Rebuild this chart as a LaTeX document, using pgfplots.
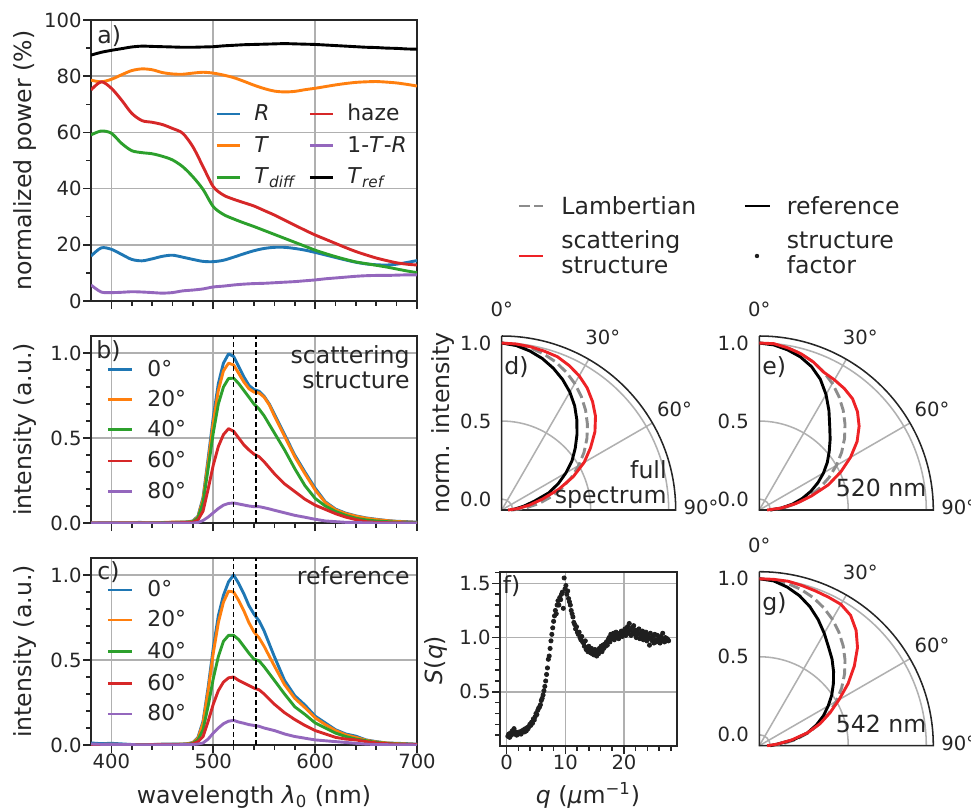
\documentclass[border=0pt]{standalone}
\usepackage{fontspec}
\setmainfont{DejaVu Sans}
\usepackage{pgfplots}
\usepackage{pgfplotstable}
\pgfplotsset{compat=1.18}

\definecolor{tabblue}{RGB}{31,119,180}
\definecolor{taborange}{RGB}{255,127,14}
\definecolor{tabgreen}{RGB}{44,160,44}
\definecolor{tabred}{RGB}{214,39,40}
\definecolor{tabpurple}{RGB}{148,103,189}
\definecolor{gridgray}{RGB}{176,176,176}
\definecolor{ink}{RGB}{38,38,38}
\definecolor{brightred}{RGB}{238,34,38}
\definecolor{lambgray}{RGB}{140,140,140}

\newcommand{\tickfont}{\fontsize{9.8bp}{11.8bp}\selectfont}
\newcommand{\legfont}{\fontsize{10.9bp}{13bp}\selectfont}
\newcommand{\labfont}{\fontsize{11.8bp}{14bp}\selectfont}

\tikzset{ln/.style={line width=1.45bp, line join=round}}

% panel a: lambda, R, T, T_diff, haze, 1-T-R, T_ref
\pgfplotstableread{
lam R T Td haze A Tref
380 16.0 78.6 59.1 75.1 5.7 87.5
390 18.9 78.0 60.5 78.0 3.2 88.5
400 18.4 78.9 59.7 75.7 3.0 89.2
410 16.6 80.5 56.1 71.5 3.1 89.8
420 14.8 82.0 53.5 66.8 3.3 90.4
430 14.3 82.6 52.8 64.2 3.2 90.7
440 15.0 82.3 52.4 63.6 3.0 90.6
450 15.9 81.3 51.5 62.8 2.8 90.5
460 16.3 80.8 50.2 61.4 3.0 90.4
470 15.6 80.7 47.8 59.7 3.6 90.3
480 14.8 81.1 44.2 54.9 3.9 90.3
490 14.1 81.4 39.7 47.8 4.3 90.4
500 14.0 81.1 33.6 40.7 5.0 90.5
510 14.5 80.4 30.8 37.7 5.3 90.8
520 15.6 79.5 29.2 36.2 5.7 91.0
530 16.8 78.2 27.8 35.0 6.0 91.2
540 17.9 76.8 26.5 33.8 6.2 91.3
550 18.7 75.6 25.1 32.2 6.3 91.4
560 19.1 74.7 23.7 30.6 6.5 91.5
570 19.1 74.4 22.3 28.8 6.7 91.6
580 18.7 74.6 20.9 27.0 6.9 91.5
590 18.1 75.2 19.5 25.2 7.2 91.4
600 17.3 75.7 18.1 23.5 7.5 91.3
610 16.4 76.3 16.9 22.0 7.9 91.1
620 15.5 76.9 15.8 20.5 8.2 90.9
630 14.6 77.4 14.8 19.0 8.5 90.7
640 13.8 77.8 13.9 17.6 8.8 90.5
650 13.2 78.0 13.3 16.4 9.0 90.3
660 12.9 78.1 12.7 15.3 9.1 90.2
670 12.8 77.9 12.1 14.4 9.1 90.0
680 13.1 77.6 11.4 13.6 9.2 89.9
690 13.7 77.1 10.7 13.1 9.3 89.7
700 14.4 76.5 10.1 12.8 9.3 89.6
}\tabA

% panel b: scattering structure spectra at 0,20,40,60,80 deg
\pgfplotstableread{
lam a0 a20 a40 a60 a80
380 0.000 0.000 0.000 0.000 0.000
400 0.001 0.000 0.000 0.000 0.000
420 0.001 0.001 0.000 0.000 0.000
428 0.004 0.001 0.000 0.000 0.000
435 0.001 0.001 0.000 0.000 0.000
450 0.002 0.003 0.002 0.000 0.000
460 0.004 0.005 0.003 0.001 0.000
470 0.005 0.005 0.004 0.002 0.000
475 0.007 0.006 0.005 0.003 0.000
480 0.012 0.010 0.008 0.004 0.000
485 0.040 0.036 0.030 0.018 0.003
490 0.150 0.140 0.120 0.070 0.015
495 0.380 0.360 0.320 0.200 0.035
500 0.620 0.590 0.530 0.340 0.060
505 0.820 0.780 0.700 0.450 0.085
510 0.940 0.895 0.800 0.520 0.105
515 0.995 0.940 0.850 0.555 0.115
520 0.980 0.930 0.852 0.540 0.118
525 0.920 0.880 0.820 0.500 0.112
530 0.860 0.830 0.780 0.460 0.106
535 0.810 0.790 0.740 0.430 0.100
540 0.785 0.770 0.700 0.405 0.096
545 0.775 0.765 0.670 0.390 0.096
550 0.745 0.740 0.630 0.360 0.090
555 0.700 0.695 0.580 0.325 0.083
560 0.640 0.630 0.530 0.290 0.075
570 0.520 0.510 0.430 0.230 0.060
580 0.400 0.390 0.320 0.185 0.045
590 0.300 0.290 0.220 0.140 0.034
600 0.205 0.195 0.145 0.105 0.022
610 0.125 0.120 0.100 0.080 0.012
620 0.082 0.078 0.068 0.055 0.008
630 0.058 0.055 0.045 0.035 0.004
640 0.042 0.040 0.028 0.020 0.003
650 0.030 0.028 0.018 0.008 0.001
660 0.022 0.020 0.012 0.004 0.000
670 0.015 0.014 0.008 0.002 0.000
680 0.010 0.009 0.005 0.001 0.000
690 0.008 0.006 0.003 0.000 0.000
700 0.005 0.004 0.002 0.000 0.000
}\tabB

% panel c: reference spectra
\pgfplotstableread{
lam a0 a20 a40 a60 a80
380 0.012 0.002 0.001 0.001 0.006
390 0.008 0.003 0.002 0.001 0.004
400 0.010 0.004 0.003 0.002 0.004
420 0.003 0.002 0.002 0.001 0.002
440 0.003 0.003 0.002 0.002 0.001
455 0.006 0.004 0.003 0.002 0.001
470 0.006 0.005 0.004 0.003 0.002
475 0.008 0.007 0.005 0.004 0.002
480 0.015 0.013 0.010 0.007 0.003
485 0.045 0.040 0.030 0.020 0.006
490 0.140 0.130 0.090 0.050 0.012
495 0.340 0.320 0.230 0.140 0.035
500 0.570 0.540 0.390 0.240 0.070
505 0.760 0.720 0.520 0.320 0.100
510 0.880 0.840 0.610 0.370 0.125
515 0.960 0.905 0.645 0.395 0.140
520 1.000 0.900 0.645 0.400 0.145
525 0.950 0.850 0.620 0.380 0.135
530 0.890 0.790 0.580 0.365 0.128
535 0.820 0.720 0.540 0.350 0.120
540 0.770 0.665 0.505 0.335 0.115
545 0.730 0.630 0.495 0.325 0.110
550 0.670 0.580 0.460 0.300 0.100
560 0.520 0.465 0.380 0.240 0.085
570 0.380 0.355 0.300 0.190 0.065
580 0.290 0.275 0.225 0.150 0.050
590 0.235 0.220 0.180 0.115 0.040
600 0.170 0.160 0.130 0.085 0.030
610 0.130 0.120 0.100 0.065 0.025
620 0.090 0.085 0.070 0.045 0.020
630 0.065 0.060 0.050 0.035 0.015
640 0.052 0.045 0.035 0.030 0.010
650 0.030 0.028 0.025 0.020 0.005
660 0.020 0.018 0.015 0.012 0.003
670 0.012 0.012 0.010 0.008 0.002
680 0.010 0.008 0.006 0.005 0.001
690 0.008 0.006 0.004 0.003 0.001
700 0.005 0.004 0.003 0.002 0.000
}\tabC

% angular distributions: angle, Lambertian, d/e/g reference and structure
\pgfplotstableread{
th lam dref dstr eref estr gref gstr
0 1.000 1.000 1.000 1.000 1.000 1.000 1.000
5 0.996 0.988 0.998 0.992 1.000 0.990 1.000
10 0.985 0.965 0.992 0.972 0.985 0.962 1.000
15 0.966 0.935 0.984 0.946 0.966 0.925 0.992
20 0.940 0.897 0.975 0.908 0.940 0.878 0.985
25 0.906 0.853 0.952 0.855 0.905 0.822 0.980
30 0.866 0.803 0.923 0.785 0.893 0.762 0.976
35 0.819 0.745 0.885 0.708 0.880 0.703 0.950
40 0.766 0.680 0.836 0.632 0.860 0.655 0.895
45 0.707 0.612 0.780 0.572 0.820 0.603 0.820
50 0.643 0.545 0.710 0.515 0.765 0.550 0.725
55 0.574 0.480 0.625 0.462 0.695 0.497 0.625
60 0.500 0.405 0.540 0.405 0.605 0.440 0.520
65 0.423 0.330 0.436 0.345 0.505 0.383 0.430
70 0.342 0.250 0.320 0.282 0.400 0.320 0.345
75 0.259 0.145 0.200 0.215 0.275 0.250 0.250
80 0.174 0.075 0.110 0.145 0.170 0.155 0.140
85 0.087 0.020 0.035 0.070 0.070 0.045 0.045
90 0.000 -0.010 -0.030 0.000 -0.020 0.000 -0.020
}\tabP

% panel f: structure factor
\pgfplotstableread{
q S
0.20 0.09
0.35 0.11
0.50 0.08
0.65 0.12
0.80 0.10
0.95 0.14
1.10 0.12
1.25 0.16
1.40 0.11
1.55 0.13
1.70 0.10
1.85 0.12
2.00 0.11
2.15 0.13
2.30 0.12
2.45 0.11
2.60 0.14
2.75 0.13
2.90 0.15
3.05 0.13
3.20 0.16
3.35 0.14
3.50 0.17
3.65 0.16
3.80 0.18
3.95 0.20
4.10 0.19
4.25 0.22
4.40 0.21
4.55 0.25
4.70 0.24
4.85 0.27
5.00 0.30
5.15 0.29
5.30 0.33
5.45 0.35
5.60 0.36
5.75 0.38
5.90 0.42
6.05 0.44
6.20 0.47
6.35 0.51
6.50 0.55
6.65 0.60
6.80 0.66
6.95 0.72
7.10 0.80
7.25 0.83
7.40 0.90
7.55 0.97
7.70 1.03
7.85 1.09
8.00 1.15
8.15 1.20
8.30 1.25
8.45 1.22
8.60 1.30
8.75 1.34
8.90 1.30
9.05 1.37
9.20 1.35
9.35 1.40
9.50 1.42
9.65 1.27
9.80 1.55
9.95 1.45
10.10 1.48
10.25 1.40
10.40 1.43
10.55 1.36
10.70 1.33
10.85 1.30
11.00 1.25
11.15 1.22
11.30 1.19
11.45 1.14
11.60 1.12
11.75 1.08
11.90 1.10
12.05 1.05
12.20 1.03
12.35 1.05
12.50 1.00
12.65 0.98
12.80 1.01
12.95 0.96
13.10 0.95
13.25 0.92
13.40 0.97
13.55 0.89
13.70 0.91
13.85 0.87
14.00 0.92
14.15 0.88
14.30 0.86
14.45 0.90
14.60 0.85
14.75 0.88
14.90 0.84
15.05 0.89
15.20 0.86
15.35 0.83
15.50 0.87
15.65 0.85
15.80 0.90
15.95 0.88
16.10 0.92
16.25 0.87
16.40 0.93
16.55 0.90
16.70 0.94
16.85 0.92
17.00 0.96
17.15 0.93
17.30 0.98
17.45 1.00
17.60 0.96
17.75 1.03
17.90 0.99
18.05 1.01
18.20 1.04
18.35 0.98
18.50 1.02
18.65 1.05
18.80 1.00
18.95 1.03
19.10 0.99
19.25 1.04
19.40 1.02
19.55 1.06
19.70 1.01
19.85 1.05
20.00 1.03
20.15 1.08
20.30 1.02
20.45 1.06
20.60 1.10
20.75 1.04
20.90 1.13
21.05 1.07
21.20 1.02
21.35 1.09
21.50 1.05
21.65 1.11
21.80 1.03
21.95 1.07
22.10 1.00
22.25 1.06
22.40 1.03
22.55 1.08
22.70 0.99
22.85 1.04
23.00 1.01
23.15 1.06
23.30 0.98
23.45 1.03
23.60 1.00
23.75 1.05
23.90 0.97
24.05 1.02
24.20 0.99
24.35 0.93
24.50 1.04
24.65 1.00
24.80 0.97
24.95 1.01
25.10 0.95
25.25 1.03
25.40 0.98
25.55 0.96
25.70 1.02
25.85 0.97
26.00 0.99
26.15 0.95
26.30 1.01
26.45 0.97
26.60 1.04
26.75 0.98
26.90 0.96
27.05 1.00
27.20 0.97
27.35 0.99
27.50 0.98
27.60 0.97
}\tabS

\pgfplotsset{
  mpl/.style={
    scale only axis,
    axis line style={ink, line width=0.77bp},
    tick style={ink, line width=0.77bp},
    major tick length=4bp, minor tick length=2.3bp,
    tick align=outside, tick pos=left,
    xmajorgrids, ymajorgrids,
    major grid style={gridgray, line width=0.77bp},
    tick label style={font=\tickfont, text=ink, inner sep=0.5bp},
    /pgf/number format/assume math mode=true,
  },
  spec/.style={mpl, width=163bp, xmin=380, xmax=700,
    xtick={400,500,600,700},
    minor xtick={420,440,460,480,520,540,560,580,620,640,660,680}},
  spec01/.style={spec, height=93.5bp, ymin=0, ymax=1.1,
    ytick={0,0.5,1}, yticklabels={0.0,0.5,1.0},
    minor ytick={0.1,0.2,0.3,0.4,0.6,0.7,0.8,0.9}},
  polq/.style={scale only axis, width=87bp, height=87bp,
    xmin=0, xmax=1.115, ymin=0, ymax=1.115, clip=false,
    axis line style={draw=none}, xtick=\empty,
    ytick={0.07,0.57,1.07}, yticklabels={0.0,0.5,1.0},
    major tick length=0pt, tick style={draw=none},
    yticklabel style={font=\tickfont, text=ink, inner sep=0pt, xshift=-5bp}},
}

% polar grid and frame (radius unit = 78.027bp)
\newcommand{\polarframe}{%
  \draw[gridgray, line width=0.77bp] (axis cs:0.07,0) arc[start angle=0,end angle=90,radius=5.462bp];
  \draw[gridgray, line width=0.77bp] (axis cs:0.57,0) arc[start angle=0,end angle=90,radius=44.475bp];
  \draw[gridgray, line width=0.77bp] (axis cs:1.07,0) arc[start angle=0,end angle=90,radius=83.489bp];
  \draw[gridgray, line width=0.77bp] (axis cs:0,0) -- (axis cs:0.5575,0.96562);
  \draw[gridgray, line width=0.77bp] (axis cs:0,0) -- (axis cs:0.96562,0.5575);
  \draw[ink, line width=0.77bp] (axis cs:0,1.115) -- (axis cs:0,0) -- (axis cs:1.115,0)
     arc[start angle=0,end angle=90,radius=87bp];
}
\newcommand{\polplot}[2]{%
  \addplot[#1] table[x expr={(\thisrow{#2}+0.07)*sin(\thisrow{th})},
                     y expr={(\thisrow{#2}+0.07)*cos(\thisrow{th})}] {\tabP};
}
\newcommand{\polcurves}[2]{%
  \polplot{lambgray, ln, dash pattern=on 5.4bp off 2.3bp}{lam}
  \polplot{black, ln}{#1}
  \polplot{brightred, ln}{#2}
}

\begin{document}
\begin{tikzpicture}
\useasboundingbox (0,0) rectangle (485.5bp,-405.5bp);

% ---- a) ----
\begin{axis}[spec, height=140.5bp, at={(45.5bp,-150.5bp)}, anchor=south west,
  ymin=0, ymax=100, ytick={0,20,...,100}, minor ytick={10,30,50,70,90},
  xticklabels={}]
\addplot[tabblue, ln, smooth] table[x=lam, y=R] {\tabA};
\addplot[taborange, ln, smooth] table[x=lam, y=T] {\tabA};
\addplot[tabgreen, ln, smooth] table[x=lam, y=Td] {\tabA};
\addplot[tabred, ln, smooth] table[x=lam, y=haze] {\tabA};
\addplot[tabpurple, ln, smooth] table[x=lam, y=A] {\tabA};
\addplot[black, ln, smooth] table[x=lam, y=Tref] {\tabA};
\end{axis}

% ---- b) ----
\begin{axis}[spec01, at={(45.5bp,-261.5bp)}, anchor=south west, xticklabels={}]
\addplot[tabblue, ln] table[x=lam, y=a0] {\tabB};
\addplot[taborange, ln] table[x=lam, y=a20] {\tabB};
\addplot[tabgreen, ln] table[x=lam, y=a40] {\tabB};
\addplot[tabred, ln] table[x=lam, y=a60] {\tabB};
\addplot[tabpurple, ln] table[x=lam, y=a80] {\tabB};
\addplot[black, line width=0.6bp, dash pattern=on 2.5bp off 1.5bp] coordinates {(520,0) (520,1.1)};
\addplot[black, line width=0.6bp, dash pattern=on 2.5bp off 1.5bp] coordinates {(542,0) (542,1.1)};
\end{axis}

% ---- c) ----
\begin{axis}[spec01, at={(45.5bp,-372.5bp)}, anchor=south west]
\addplot[tabblue, ln] table[x=lam, y=a0] {\tabC};
\addplot[taborange, ln] table[x=lam, y=a20] {\tabC};
\addplot[tabgreen, ln] table[x=lam, y=a40] {\tabC};
\addplot[tabred, ln] table[x=lam, y=a60] {\tabC};
\addplot[tabpurple, ln] table[x=lam, y=a80] {\tabC};
\addplot[black, line width=0.6bp, dash pattern=on 2.5bp off 1.5bp] coordinates {(520,0) (520,1.1)};
\addplot[black, line width=0.6bp, dash pattern=on 2.5bp off 1.5bp] coordinates {(542,0) (542,1.1)};
\end{axis}

% ---- f) ----
\begin{axis}[mpl, width=88.5bp, height=87bp, at={(250bp,-373bp)}, anchor=south west,
  xmin=-1.14, xmax=29.04, ymin=0, ymax=1.605,
  xtick={0,10,20}, minor xtick={2,4,6,8,12,14,16,18,22,24,26,28},
  ytick={0.5,1,1.5}, yticklabels={0.5,1.0,1.5},
  minor ytick={0.1,0.2,0.3,0.4,0.6,0.7,0.8,0.9,1.1,1.2,1.3,1.4,1.6}]
\addplot[only marks, mark=*, mark size=1.05bp, black!88] table[x=q, y=S] {\tabS};
\end{axis}

% ---- d), e), g) ----
\begin{axis}[polq, at={(250.85bp,-255bp)}, anchor=south west]
\polarframe
\polcurves{dref}{dstr}
\end{axis}
\begin{axis}[polq, at={(379.65bp,-255bp)}, anchor=south west]
\polarframe
\polcurves{eref}{estr}
\end{axis}
\begin{axis}[polq, at={(379.65bp,-372.85bp)}, anchor=south west]
\polarframe
\polcurves{gref}{gstr}
\end{axis}

% ---- texts and legends (pixel coordinates, y downwards) ----
\begin{scope}[x=0.5bp, y=-0.5bp, every node/.style={inner sep=0pt, text=ink}]
% axis labels
\node[rotate=90, font=\labfont] at (25,160.5) {normalized power (\%)};
\node[rotate=90, font=\labfont] at (25,429.5) {intensity (a.u.)};
\node[rotate=90, font=\labfont] at (25,651.5) {intensity (a.u.)};
\node[anchor=base, font=\labfont] at (254,803.3) {wavelength {\itshape λ}\textsubscript{0} (nm)};
\node[rotate=90, font=\labfont] at (443.3,423) {norm. intensity};
\node[rotate=90, font=\labfont] at (436,660) {\textit{S}(\textit{q})};
\node[anchor=base, font=\labfont] at (588,803.3) {\textit{q} (\textit{μ}m\textsuperscript{−1})};
% panel letters and notes
\node[anchor=base west, font=\labfont] at (97,43.3) {a)};
\node[anchor=base west, font=\labfont] at (96,358.3) {b)};
\node[anchor=base west, font=\labfont] at (97,580) {c)};
\node[anchor=base west, font=\labfont] at (504,375) {d)};
\node[anchor=base west, font=\labfont] at (762,375) {e)};
\node[anchor=base west, font=\labfont] at (502.5,593.3) {f)};
\node[anchor=base west, font=\labfont] at (762,610.7) {g)};
\node[anchor=base east, font=\labfont] at (410,363.5) {scattering};
\node[anchor=base east, font=\labfont] at (410,389) {structure};
\node[anchor=base east, font=\labfont] at (410,585) {reference};
\node[anchor=base east, font=\labfont] at (667,478.3) {full};
\node[anchor=base east, font=\labfont] at (667,503.3) {spectrum};
\node[anchor=base west, font=\labfont] at (835.5,496.7) {520 nm};
\node[anchor=base west, font=\labfont] at (835.5,732.3) {542 nm};
% polar angle labels
\foreach \ox/\oy in {501.7/510, 759.3/510, 759.3/745.7}{
  \node[anchor=base, font=\tickfont] at (\ox,\oy-193.3) {0°};
  \node[anchor=base west, font=\tickfont] at (\ox+83.3,\oy-165.7) {30°};
  \node[anchor=base west, font=\tickfont] at (\ox+155,\oy-93.3) {60°};
  \node[anchor=base west, font=\tickfont] at (\ox+181.6,\oy+5) {90°};
}
% legend a)
\draw[tabblue, ln] (216.7,114) -- (240,114);
\draw[taborange, ln] (216.7,145.7) -- (240,145.7);
\draw[tabgreen, ln] (216.7,177.3) -- (240,177.3);
\draw[tabred, ln] (310,114) -- (333,114);
\draw[tabpurple, ln] (310,145.7) -- (333,145.7);
\draw[black, ln] (310,177.3) -- (333,177.3);
\node[anchor=base west, font=\legfont] at (254,120.7) {\textit{R}};
\node[anchor=base west, font=\legfont] at (254,152.3) {\textit{T}};
\node[anchor=base west, font=\legfont] at (254,183.3) {\textit{T}\textsubscript{\textit{diff}}};
\node[anchor=base west, font=\legfont] at (347,120.7) {haze};
\node[anchor=base west, font=\legfont] at (347,152.3) {1-\textit{T}-\textit{R}};
\node[anchor=base west, font=\legfont] at (347,183.3) {\textit{T}\textsubscript{\textit{ref}}};
% legends b) and c)
\foreach \yy/\cc/\lab in {369.3/tabblue/0°, 399.3/taborange/20°, 429.3/tabgreen/40°, 461/tabred/60°, 491.7/tabpurple/80°}{
  \draw[\cc, ln] (108,\yy) -- (132,\yy);
  \node[anchor=base west, font=\legfont] at (147,\yy+7) {\lab};
}
\foreach \yy/\cc/\lab in {590/tabblue/0°, 620/taborange/20°, 651.7/tabgreen/40°, 683.3/tabred/60°, 714/tabpurple/80°}{
  \draw[\cc, ln] (108,\yy) -- (132,\yy);
  \node[anchor=base west, font=\legfont] at (147,\yy+7) {\lab};
}
% global legend
\draw[lambgray, ln, dash pattern=on 5.4bp off 2.3bp] (519,206) -- (543,206);
\node[anchor=base west, font=\labfont] at (561,214.3) {Lambertian};
\draw[black, ln] (745,206) -- (770,206);
\node[anchor=base west, font=\labfont] at (786.5,214.3) {reference};
\draw[brightred, ln] (519,256) -- (543,256);
\node[anchor=base west, font=\labfont] at (561,248.3) {scattering};
\node[anchor=base west, font=\labfont] at (561,274) {structure};
\fill[black!88] (757,256) circle[radius=1.1bp];
\node[anchor=base west, font=\labfont] at (786.5,248.3) {structure};
\node[anchor=base west, font=\labfont] at (786.5,274) {factor};
\end{scope}
\end{tikzpicture}
\end{document}
